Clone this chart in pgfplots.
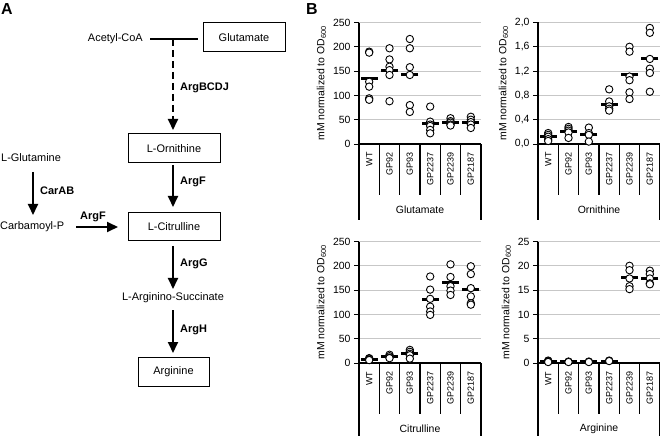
\documentclass[border=0pt]{standalone}
\usepackage{fontspec}
\setmainfont{Liberation Sans}
\usepackage{pgfplots}
\pgfplotsset{compat=1.18}
\usetikzlibrary{arrows.meta}

\newcommand{\lab}{\fontsize{10.5}{12}\selectfont}
\newcommand{\pth}{\fontsize{11}{13}\selectfont}

\pgfplotsset{
  strip/.style={
    scale only axis, width=122bp, height=121.5bp,
    xmin=0.5, xmax=6.5, ymin=0,
    axis x line*=bottom, axis y line*=left,
    axis line style={line width=1.5bp, -},
    xtick={1,...,6},
    xticklabels={WT,GP92,GP93,GP2237,GP2239,GP2187},
    xticklabel style={rotate=90, anchor=east, font=\fontsize{9}{10}\selectfont},
    xtick style={draw=none},
    tick align=outside, major tick length=5bp,
    ytick style={line width=1bp, black},
    ymajorgrids, grid style={line width=0.8bp, black!22},
    yticklabel style={font=\lab},
    ylabel={mM normalized to OD\textsubscript{600}},
    ylabel style={font=\lab},
    clip=false,
    /pgf/number format/assume math mode=true,
  },
  pts/.style={only marks, mark=*, mark size=3.7bp,
    mark options={fill=white, draw=black, line width=0.9bp}},
  avg/.style={only marks, mark=-, mark size=8.5bp,
    mark options={line width=3bp, draw=black}},
}

% frame below the category axis, with the group name
\newcommand{\catframe}[1]{%
  \draw[line width=1.5bp] (axis cs:0.5,0) -- ++(0bp,-76bp);
  \draw[line width=1.5bp] (axis cs:6.5,0) -- ++(0bp,-76bp);
  \draw[line width=1.5bp] (axis cs:1.5,0) -- ++(0bp,-51bp);
  \draw[line width=1.5bp] (axis cs:2.5,0) -- ++(0bp,-51bp);
  \draw[line width=1.5bp] (axis cs:3.5,0) -- ++(0bp,-51bp);
  \draw[line width=1.5bp] (axis cs:4.5,0) -- ++(0bp,-51bp);
  \draw[line width=1.5bp] (axis cs:5.5,0) -- ++(0bp,-51bp);
  \node[font=\lab] at (axis cs:3.5,0) [yshift=-66bp] {#1};
}

\begin{document}
\begin{tikzpicture}[x=1bp, y=1bp]
\path[use as bounding box] (0,0) rectangle (660,-436);

% ---------------- panel A: pathway ----------------
\node[font=\bfseries\fontsize{16}{16}\selectfont, anchor=base west, inner sep=0] at (1,-15) {A};
\node[font=\bfseries\fontsize{16}{16}\selectfont, anchor=base west, inner sep=0] at (306,-15) {B};

\tikzset{rx/.style={line width=1.8bp, -{Triangle[width=10bp,length=11bp]}}}

\node[font=\pth, anchor=east, inner sep=0] at (143,-39) {Acetyl-CoA};
\draw[line width=1.5bp] (150,-39) -- (198,-39);
\draw[line width=1bp] (203,-23) rectangle (285,-52);
\node[font=\pth] at (244,-38) {Glutamate};
\draw[rx, dash pattern=on 7bp off 4bp] (173,-39) -- (173,-130);
\node[font=\pth\bfseries, anchor=west, inner sep=0] at (180,-88) {ArgBCDJ};

\draw[line width=1bp] (128,-134) rectangle (220,-163);
\node[font=\pth] at (174,-148.5) {L-Ornithine};
\draw[rx] (173,-165) -- (173,-207);
\node[font=\pth\bfseries, anchor=west, inner sep=0] at (180,-182) {ArgF};

\node[font=\pth, anchor=west, inner sep=0] at (1,-158) {L-Glutamine};
\draw[rx] (33,-172) -- (33,-215);
\node[font=\pth\bfseries, anchor=west, inner sep=0] at (40,-191) {CarAB};
\node[font=\pth, anchor=west, inner sep=0] at (0,-227) {Carbamoyl-P};
\draw[rx] (76,-227) -- (118,-227);
\node[font=\pth\bfseries, inner sep=0] at (93,-217) {ArgF};

\draw[line width=1bp] (128,-213) rectangle (220,-241);
\node[font=\pth] at (174,-227) {L-Citrulline};
\draw[rx] (173,-246) -- (173,-289);
\node[font=\pth\bfseries, anchor=west, inner sep=0] at (180,-264) {ArgG};
\node[font=\pth] at (173,-298) {L-Arginino-Succinate};
\draw[rx] (173,-310) -- (173,-353);
\node[font=\pth\bfseries, anchor=west, inner sep=0] at (180,-330) {ArgH};
\draw[line width=1bp] (138,-357) rectangle (209,-386);
\node[font=\pth] at (173.5,-371.5) {Arginine};

% ---------------- panel B: Glutamate ----------------
\begin{axis}[strip, at={(359bp,-144bp)}, anchor=south west,
  ymax=250, ytick={0,50,100,150,200,250}]
\addplot[avg] coordinates {(1,135) (2,151) (3,143) (4,42) (5,45) (6,45)};
\addplot[pts] coordinates {
  (1,190) (1,188) (1,128) (1,118) (1,94) (1,91)
  (2,197) (2,174) (2,159) (2,152) (2,142) (2,88)
  (3,216) (3,197) (3,158) (3,142) (3,80) (3,66)
  (4,77) (4,46) (4,40) (4,37) (4,29) (4,22)
  (5,53) (5,47) (5,44) (5,40) (5,38)
  (6,56) (6,50) (6,45) (6,40) (6,33)};
\catframe{Glutamate}
\end{axis}

% ---------------- panel B: Ornithine ----------------
\begin{axis}[strip, at={(538bp,-144bp)}, anchor=south west,
  ymax=2, ytick={0,0.4,0.8,1.2,1.6,2.0},
  yticklabel style={/pgf/number format/.cd, fixed, fixed zerofill, precision=1, use comma}]
\addplot[avg] coordinates {(1,0.12) (2,0.20) (3,0.16) (4,0.65) (5,1.15) (6,1.40)};
\addplot[pts] coordinates {
  (1,0.18) (1,0.15) (1,0.12) (1,0.08) (1,0.05)
  (2,0.28) (2,0.25) (2,0.22) (2,0.19) (2,0.10)
  (3,0.27) (3,0.18) (3,0.15) (3,0.04)
  (4,0.90) (4,0.70) (4,0.62) (4,0.58) (4,0.55)
  (5,1.60) (5,1.52) (5,1.11) (5,1.05) (5,0.85) (5,0.74)
  (6,1.91) (6,1.83) (6,1.40) (6,1.24) (6,1.17) (6,0.86)};
\catframe{Ornithine}
\end{axis}

% ---------------- panel B: Citrulline ----------------
\begin{axis}[strip, at={(359bp,-363bp)}, anchor=south west,
  ymax=250, ytick={0,50,100,150,200,250}]
\addplot[avg] coordinates {(1,7) (2,13) (3,19) (4,130) (5,166) (6,152)};
\addplot[pts] coordinates {
  (1,10) (1,9) (1,7) (1,6)
  (2,17) (2,14) (2,11) (2,10)
  (3,27) (3,23) (3,19) (3,16) (3,9)
  (4,178) (4,151) (4,132) (4,116) (4,106) (4,99)
  (5,203) (5,177) (5,158) (5,149) (5,140)
  (6,199) (6,183) (6,154) (6,137) (6,123) (6,120)};
\catframe{Citrulline}
\end{axis}

% ---------------- panel B: Arginine ----------------
\begin{axis}[strip, at={(538bp,-363bp)}, anchor=south west,
  ymax=25, ytick={0,5,10,15,20,25}]
\addplot[avg] coordinates {(1,0.3) (2,0.25) (3,0.25) (4,0.4) (5,17.5) (6,17.4)};
\addplot[pts] coordinates {
  (1,0.5) (1,0.4) (1,0.3) (1,0.2)
  (2,0.3) (2,0.2)
  (3,0.3) (3,0.2)
  (4,0.5) (4,0.4)
  (5,20.0) (5,19.1) (5,17.4) (5,15.8) (5,15.2)
  (6,19.0) (6,18.3) (6,17.4) (6,16.4) (6,16.2)};
\catframe{Arginine}
\end{axis}
\end{tikzpicture}
\end{document}
